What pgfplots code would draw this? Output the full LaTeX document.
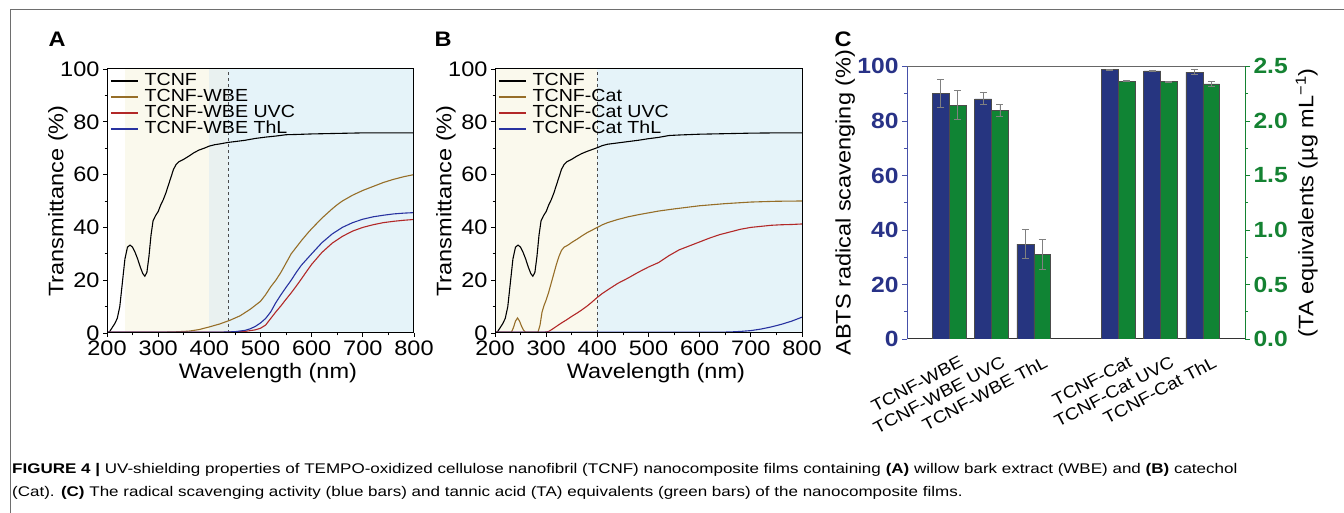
\documentclass[border=0pt]{standalone}
\usepackage{fontspec}
\setmainfont{Liberation Sans}[FakeStretch=1.12]
\newfontfamily\capfont{Liberation Sans}
\usepackage{graphicx}
\usepackage{pgfplots}
\pgfplotsset{compat=1.18}

\definecolor{cbeige}{RGB}{250,249,237}
\definecolor{cband}{RGB}{233,241,240}
\definecolor{cblue}{RGB}{229,243,249}
\definecolor{cbrown}{RGB}{150,110,40}
\definecolor{cred}{RGB}{178,40,40}
\definecolor{cline}{RGB}{40,50,160}
\definecolor{navy}{RGB}{38,53,128}
\definecolor{navytxt}{RGB}{40,50,135}
\definecolor{navyline}{RGB}{70,80,170}
\definecolor{barg}{RGB}{16,132,52}
\definecolor{gtxt}{RGB}{20,130,50}
\definecolor{framegray}{RGB}{110,110,110}

\pgfplotsset{
  spec/.style={
    scale only axis, width=307pt, height=264pt,
    xmin=200, xmax=800, ymin=0, ymax=100,
    xtick={200,300,...,800}, ytick={0,20,...,100},
    minor x tick num=1, minor y tick num=1,
    tick align=outside, xtick pos=bottom, ytick pos=left,
    major tick length=4pt, minor tick length=2.5pt,
    tick style={black, line width=0.8pt},
    axis line style={line width=1pt},
    /pgf/number format/assume math mode=true,
    ticklabel style={font=\fontsize{21}{24}\selectfont},
    label style={font=\fontsize{21}{24}\selectfont},
    xlabel={Wavelength (nm)}, ylabel={Transmittance (\%)},
    xlabel style={at={(axis description cs:0.524,-0.152)}, anchor=center},
    ylabel style={at={(axis description cs:-0.16,0.5)}, anchor=center},
    axis on top,
    legend cell align=left,
    legend style={draw=none, fill=none, at={(axis description cs:0.01,0.985)},
      anchor=north west, font=\fontsize{17.5}{16}\selectfont,
      row sep=0pt, inner sep=0pt,
      nodes={inner sep=0pt, text height=12.5pt, text depth=3.5pt},
      /tikz/every odd column/.append style={column sep=6pt}},
    legend image code/.code={\draw[#1, line width=1.4pt] (0pt,0pt) -- (27pt,0pt);},
    every axis plot/.append style={line width=1.1pt},
  },
  cbar/.style={
    at={(907pt,174pt)}, anchor=south west, scale only axis,
    width=338pt, height=272.6pt, xmin=0, xmax=8,
    ybar, bar width=0.4, tick align=outside,
    minor y tick num=1, major tick length=5pt, minor tick length=3pt,
    /pgf/number format/assume math mode=true,
    label style={font=\fontsize{21}{24}\selectfont},
  },
  ebar/.style={error bars/.cd, y dir=both, y explicit,
    error bar style={black!50, line width=0.7pt},
    error mark options={rotate=90, black!50, mark size=3.5pt, line width=0.7pt}},
}

\begin{document}
\begin{tikzpicture}[x=1pt, y=1pt]
\useasboundingbox (0,0) rectangle (1344,513);
\draw[framegray, line width=1pt] (10,0) -- (10,503) -- (1344,503);

\node[font=\bfseries\fontsize{21}{22}\selectfont] at (57,474) {A};
\node[font=\bfseries\fontsize{21}{22}\selectfont] at (443,474) {B};
\node[font=\bfseries\fontsize{21}{22}\selectfont] at (843,474) {C};

% panel A
\begin{axis}[spec, at={(107pt,180pt)}, anchor=south west]
\addplot[draw=none, fill=cbeige, forget plot] coordinates {(236,100) (400,100)} \closedcycle;
\addplot[draw=none, fill=cband, forget plot] coordinates {(400,100) (437,100)} \closedcycle;
\addplot[draw=none, fill=cblue, forget plot] coordinates {(437,100) (800,100)} \closedcycle;
\addplot[black!70, dashed, line width=0.8pt, forget plot] coordinates {(437,0) (437,100)};
\addplot[black] coordinates {
(200,0) (205,0.5) (210,2) (215,3.5) (220,5.5) (225,10) (230,19) (235,28) (240,32.5)
(245,33.3) (250,32.5) (255,30.5) (260,28) (265,25) (270,22.5) (274,21.5) (278,23)
(282,29) (286,37) (290,42.5) (295,44.5) (300,46) (305,48.5) (310,50.5) (315,53)
(320,56) (325,59) (330,62) (335,63.8) (340,64.8) (345,65.3) (350,65.8) (355,66.4)
(360,67) (370,68.3) (380,69.3) (390,70) (400,70.8) (410,71.3) (420,71.6) (437,72.2)
(450,72.5) (470,73) (490,73.7) (510,74.2) (530,74.6) (550,75.1) (570,75.2)
(600,75.4) (650,75.6) (700,75.8) (750,75.8) (800,75.8)};
\addlegendentry{TCNF}
\addplot[cbrown] coordinates {
(200,0.3) (300,0.3) (330,0.4) (360,0.7) (380,1.3) (400,2.3) (420,3.4) (440,4.8)
(460,6.5) (480,9) (500,12) (510,14.5) (520,17.5) (530,20) (540,23) (550,26.5)
(560,30) (580,35) (593,38) (600,39.5) (620,43.5) (640,47) (650,48.6) (660,50)
(680,52.2) (700,54) (720,55.5) (740,57) (760,58.2) (780,59.2) (800,60)};
\addlegendentry{TCNF-WBE}
\addplot[cred] coordinates {
(200,0.3) (420,0.3) (450,0.4) (470,0.6) (490,1.2) (500,1.8) (510,3) (520,5.5)
(530,8) (540,10.3) (550,12.8) (560,15.2) (570,17.8) (580,20.5) (590,23.3)
(600,26) (620,30.5) (640,34) (660,36.6) (680,38.6) (700,40) (720,41) (740,41.8)
(760,42.3) (780,42.7) (800,43)};
\addlegendentry{TCNF-WBE UVC}
\addplot[cline] coordinates {
(200,0.3) (420,0.3) (450,0.5) (470,1) (480,1.6) (490,2.5) (500,3.8) (510,5.5)
(520,8) (530,11.5) (540,14.5) (550,17.3) (560,20) (570,23) (580,25.7) (600,30)
(620,34.2) (640,37.5) (660,40) (680,41.8) (700,43.1) (720,44) (740,44.6)
(760,45.1) (780,45.4) (800,45.6)};
\addlegendentry{TCNF-WBE ThL}
\end{axis}

% panel B
\begin{axis}[spec, at={(495pt,180pt)}, anchor=south west]
\addplot[draw=none, fill=cbeige, forget plot] coordinates {(200,100) (400,100)} \closedcycle;
\addplot[draw=none, fill=cblue, forget plot] coordinates {(400,100) (800,100)} \closedcycle;
\addplot[black!70, dashed, line width=0.8pt, forget plot] coordinates {(400,0) (400,100)};
\addplot[black] coordinates {
(200,0) (205,0.5) (210,2) (215,3.5) (220,5.5) (225,10) (230,19) (235,28) (240,32.5)
(245,33.3) (250,32.5) (255,30.5) (260,28) (265,25) (270,22.5) (274,21.5) (278,23)
(282,29) (286,37) (290,42.5) (295,44.5) (300,46) (305,48.5) (310,50.5) (315,53)
(320,56) (325,59) (330,62) (335,63.8) (340,64.8) (345,65.3) (350,65.8) (355,66.4)
(360,67) (370,68) (380,68.8) (390,69.5) (400,70.2) (410,71) (420,71.5) (440,72)
(460,72.5) (480,73) (500,73.6) (520,74.1) (540,74.8) (560,75) (600,75.3)
(650,75.5) (700,75.7) (750,75.8) (800,75.8)};
\addlegendentry{TCNF}
\addplot[cbrown] coordinates {
(200,0.3) (232,0.3) (236,2) (240,4.5) (244,5.7) (248,4.5) (252,2.5) (256,1) (260,0.3)
(284,0.3) (288,3) (292,8) (296,10.5) (300,12.5) (305,15.5) (310,19) (315,22.5)
(320,26) (325,29) (330,31.3) (335,32.5) (340,33) (345,33.6) (350,34.3) (360,35.5)
(370,36.8) (380,38) (390,39) (400,40) (410,41) (420,41.8) (440,43) (460,44)
(480,44.8) (500,45.5) (520,46.2) (550,47) (600,48.2) (650,49) (700,49.6)
(750,49.9) (800,50)};
\addlegendentry{TCNF-Cat}
\addplot[cred] coordinates {
(200,0.3) (295,0.3) (300,0.4) (305,0.6) (310,1.2) (320,2.5) (330,3.8) (340,5)
(350,6.3) (360,7.5) (370,8.8) (380,10.2) (390,11.8) (400,13.5) (410,15) (420,16.3)
(440,18.8) (460,20.8) (480,23) (500,25) (520,26.7) (540,29.3) (560,31.5) (580,33)
(600,34.5) (620,36) (640,37.3) (660,38.3) (680,39.3) (700,40) (720,40.4)
(740,40.8) (760,41) (780,41.1) (800,41.3)};
\addlegendentry{TCNF-Cat UVC}
\addplot[cline] coordinates {
(200,0.3) (640,0.3) (660,0.4) (680,0.6) (700,0.9) (720,1.5) (740,2.3) (760,3.3)
(780,4.5) (800,6)};
\addlegendentry{TCNF-Cat ThL}
\end{axis}

% panel C, left scale
\begin{axis}[cbar, ymin=0, ymax=100, bar shift=-0.2,
  axis x line*=bottom, axis y line*=left,
  xtick={1,2,3,5,6,7},
  xticklabels={TCNF-WBE, TCNF-WBE UVC, TCNF-WBE ThL, TCNF-Cat, TCNF-Cat UVC, TCNF-Cat ThL},
  x tick style={draw=none},
  xticklabel style={rotate=28, anchor=north east, inner sep=0pt,
    font=\fontsize{17}{18}\selectfont, xshift=3pt, yshift=-14pt},
  ytick={0,20,...,100},
  y axis line style={navyline, line width=1pt},
  x axis line style={black!80, line width=1pt},
  y tick style={navyline, line width=0.8pt},
  yticklabel style={font=\bfseries\fontsize{22}{24}\selectfont, text=navytxt},
  ylabel={ABTS radical scavenging (\%)},
  ylabel style={at={(axis description cs:-0.183,0.5)}, anchor=center},
]
\addplot[fill=navy, draw=black!70, line width=0.5pt, ebar]
coordinates {(1,90.0) +- (0,5.1) (2,88.1) +- (0,2.2) (3,34.8) +- (0,5.3)
  (5,98.8) +- (0,0.2) (6,98.4) +- (0,0.2) (7,97.9) +- (0,1.0)};
\end{axis}

% panel C, right scale
\begin{axis}[cbar, ymin=0, ymax=2.5, bar shift=0.2,
  axis x line*=top, axis y line*=right, xtick=\empty,
  ytick={0,0.5,...,2.5},
  y axis line style={gtxt, line width=1pt},
  x axis line style={black!60, line width=1pt},
  y tick style={gtxt, line width=0.8pt},
  yticklabel style={font=\bfseries\fontsize{22}{24}\selectfont, text=gtxt,
    /pgf/number format/.cd, fixed, fixed zerofill, precision=1},
  ylabel={(TA equivalents (µg mL\textsuperscript{−1})},
  ylabel style={at={(axis description cs:1.1825,0.5)}, anchor=center},
]
\addplot[fill=barg, draw=black!70, line width=0.5pt, ebar]
coordinates {(1,2.145) +- (0,0.133) (2,2.10) +- (0,0.055) (3,0.776) +- (0,0.136)
  (5,2.365) +- (0,0.005) (6,2.36) +- (0,0.004) (7,2.34) +- (0,0.025)};
\end{axis}

\node[anchor=base west, inner sep=0pt, font=\capfont\fontsize{14}{16}\selectfont] at (12,39)
{\scalebox{1.215}[1]{\textbf{FIGURE 4 |} UV-shielding properties of TEMPO-oxidized cellulose nanofibril (TCNF) nanocomposite films containing \textbf{(A)} willow bark extract (WBE) and \textbf{(B)} catechol}};
\node[anchor=base west, inner sep=0pt, font=\capfont\fontsize{14}{16}\selectfont] at (12,16)
{\scalebox{1.215}[1]{(Cat). \textbf{(C)} The radical scavenging activity (blue bars) and tannic acid (TA) equivalents (green bars) of the nanocomposite films.}};
\end{tikzpicture}
\end{document}
